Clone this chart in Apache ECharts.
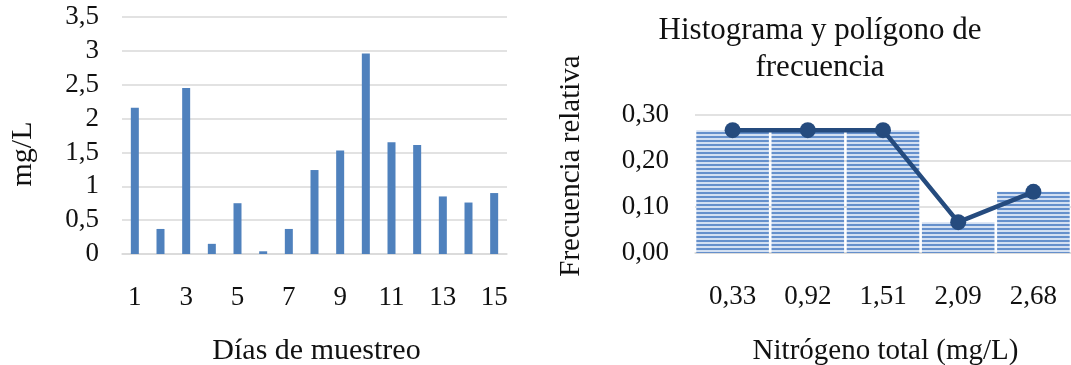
<!DOCTYPE html>
<html>
<head>
<meta charset="utf-8">
<script src="https://cdn.jsdelivr.net/npm/echarts@6/dist/echarts.min.js"></script>
<style>
  html, body { margin: 0; padding: 0; background: #ffffff; }
  #chart { width: 1071px; height: 365px; }
</style>
</head>
<body>
<div id="chart"></div>
<script>
// Nitrógeno total por día de muestreo (mg/L)
const dias = ['1', '2', '3', '4', '5', '6', '7', '8', '9', '10', '11', '12', '13', '14', '15'];
const nitrogeno = [2.16, 0.37, 2.45, 0.15, 0.75, 0.04, 0.37, 1.24, 1.53, 2.96, 1.65, 1.61, 0.85, 0.76, 0.90];

// Histograma: marcas de clase y frecuencia relativa
const clases = ['0,33', '0,92', '1,51', '2,09', '2,68'];
const frecuenciaRelativa = [0.267, 0.267, 0.267, 0.067, 0.133];

const SERIF = '"Liberation Serif", "Times New Roman", serif';
const TEXT = '#111111';
const GRID = '#d9d9d9';

// horizontal stripe fill for the histogram bars
function stripes() {
  const c = document.createElement('canvas');
  c.width = 4; c.height = 4;
  const g = c.getContext('2d');
  g.fillStyle = '#d3e0f2';
  g.fillRect(0, 0, 4, 4);
  g.fillStyle = '#6590cc';
  g.fillRect(0, 0, 4, 2);
  return c;
}

const comma = (v, d) => (d == null ? String(v) : v.toFixed(d)).replace('.', ',');

const chart = echarts.init(document.getElementById('chart'), null, { renderer: 'canvas' });

chart.setOption({
  animation: false,
  backgroundColor: '#ffffff',
  grid: [
    { left: 122, right: 564, top: 17, bottom: 111, containLabel: false },
    { left: 695, right: -9, top: 115, bottom: 112, containLabel: false }
  ],
  xAxis: [
    {
      gridIndex: 0, type: 'category', data: dias,
      axisTick: { show: false },
      axisLine: { lineStyle: { color: GRID, width: 1.5 } },
      axisLabel: { interval: 1, margin: 30, color: TEXT, fontFamily: SERIF, fontSize: 27 }
    },
    {
      gridIndex: 1, type: 'category', data: clases,
      axisTick: { show: false },
      axisLine: { lineStyle: { color: GRID, width: 1.5 } },
      axisLabel: { margin: 30, color: TEXT, fontFamily: SERIF, fontSize: 27 }
    }
  ],
  yAxis: [
    {
      gridIndex: 0, type: 'value', min: 0, max: 3.5, interval: 0.5,
      axisLine: { show: false }, axisTick: { show: false },
      splitLine: { lineStyle: { color: GRID, width: 1.5 } },
      axisLabel: { margin: 23, color: TEXT, fontFamily: SERIF, fontSize: 27,
        formatter: v => comma(v) }
    },
    {
      gridIndex: 1, type: 'value', min: 0, max: 0.3, interval: 0.1,
      axisLine: { show: false }, axisTick: { show: false },
      splitLine: { lineStyle: { color: GRID, width: 1.5 } },
      axisLabel: { margin: 26, color: TEXT, fontFamily: SERIF, fontSize: 27,
        formatter: v => comma(v, 2) }
    }
  ],
  series: [
    {
      name: 'mg/L', type: 'bar', xAxisIndex: 0, yAxisIndex: 0,
      data: nitrogeno, barWidth: 8,
      itemStyle: { color: '#4f81bd' }
    },
    {
      name: 'Histograma', type: 'bar', xAxisIndex: 1, yAxisIndex: 1,
      data: frecuenciaRelativa, barCategoryGap: '3.5%',
      itemStyle: { color: { image: stripes(), repeat: 'repeat' } }
    },
    {
      name: 'Polígono', type: 'line', xAxisIndex: 1, yAxisIndex: 1,
      data: frecuenciaRelativa,
      symbol: 'circle', symbolSize: 16,
      lineStyle: { color: '#254b7e', width: 4.5 },
      itemStyle: { color: '#254b7e' }
    }
  ],
  graphic: [
    { type: 'text', x: 23, y: 154, rotation: Math.PI / 2,
      style: { text: 'mg/L', fill: TEXT, fontFamily: SERIF, fontSize: 30, align: 'center', verticalAlign: 'middle' } },
    { type: 'text', x: 316.5, y: 351,
      style: { text: 'Días de muestreo', fill: TEXT, fontFamily: SERIF, fontSize: 30, align: 'center', verticalAlign: 'middle' } },
    { type: 'text', x: 571.5, y: 166, rotation: Math.PI / 2,
      style: { text: 'Frecuencia relativa', fill: TEXT, fontFamily: SERIF, fontSize: 29, align: 'center', verticalAlign: 'middle' } },
    { type: 'text', x: 885.5, y: 351,
      style: { text: 'Nitrógeno total (mg/L)', fill: TEXT, fontFamily: SERIF, fontSize: 29, align: 'center', verticalAlign: 'middle' } },
    { type: 'text', x: 820, y: 49,
      style: { text: 'Histograma y polígono de\nfrecuencia', fill: TEXT, fontFamily: SERIF, fontSize: 31, lineHeight: 37, align: 'center', verticalAlign: 'middle' } }
  ]
});
</script>
</body>
</html>
